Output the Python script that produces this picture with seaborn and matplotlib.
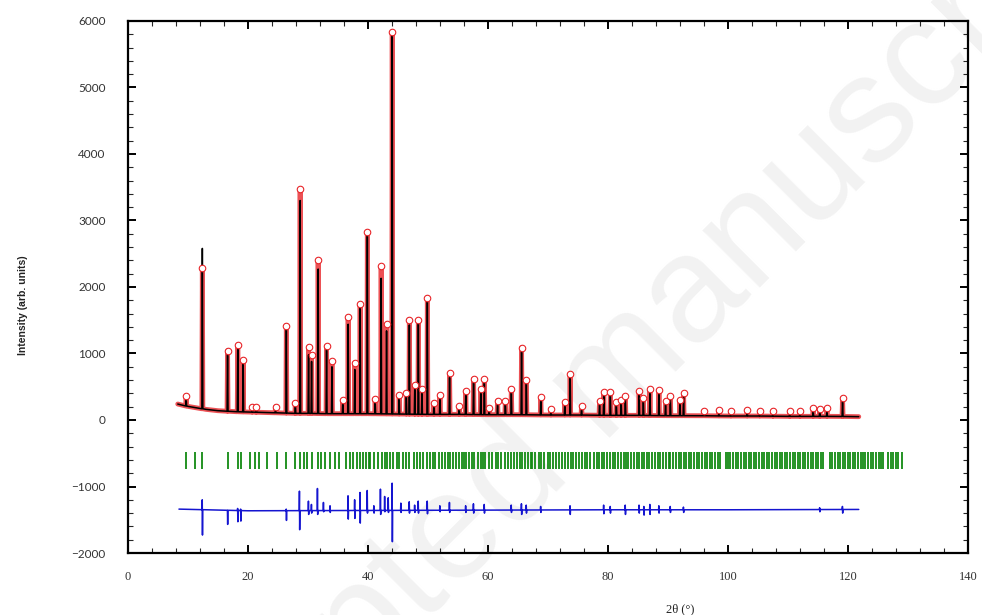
import numpy as np
import pandas as pd
import seaborn as sns
import matplotlib.pyplot as plt
from matplotlib.ticker import MultipleLocator

# background of the pattern (2theta, counts)
bg_x = [8.3, 9, 10, 11, 12, 13, 14, 15, 16, 18, 20, 22, 24, 26, 28, 30, 33, 36, 40, 45,
        50, 55, 60, 65, 70, 75, 80, 85, 90, 95, 100, 105, 110, 115, 118, 121.8]
bg_y = [240, 225, 205, 190, 175, 160, 150, 140, 135, 125, 120, 115, 110, 105, 100, 100, 95, 95, 95, 90,
        85, 85, 80, 80, 75, 75, 70, 70, 65, 65, 60, 60, 55, 55, 55, 50]

# reflections: position, calculated top, observed top
peak_pos = [9.7, 12.4, 16.6, 18.3, 19.2, 20.7, 21.4, 24.6, 26.4, 27.9, 28.7, 30.1, 30.6, 31.7,
            33.1, 34.0, 35.8, 36.7, 37.8, 38.7, 39.9, 41.2, 42.2, 43.1, 44.05, 45.2, 46.4, 46.9,
            47.8, 48.4, 49.0, 49.9, 51.0, 52.0, 53.6, 55.2, 56.3, 57.6, 58.8, 59.4, 60.2, 61.6,
            62.9, 63.9, 65.6, 66.4, 68.8, 70.5, 72.8, 73.7, 75.6, 78.6, 79.3, 80.4, 81.4, 82.2,
            82.9, 85.2, 85.9, 87.0, 88.5, 89.6, 90.4, 92.0, 92.6, 96.0, 98.5, 100.5, 103.2, 105.3,
            107.5, 110.3, 112.0, 114.2, 115.3, 116.5, 119.1]
peak_calc = [340, 2580, 1070, 1160, 920, 200, 190, 200, 1400, 260, 3300, 980, 880, 2270,
             1110, 800, 290, 1440, 760, 1700, 2780, 300, 2130, 1340, 5800, 350, 380, 1430,
             500, 1480, 450, 1780, 250, 380, 640, 200, 420, 590, 450, 590, 170, 280,
             280, 450, 1050, 590, 330, 150, 250, 660, 200, 260, 400, 400, 260, 290,
             350, 410, 320, 450, 430, 280, 350, 290, 390, 130, 140, 130, 140, 130,
             130, 120, 130, 170, 160, 170, 300]
peak_obs = [360, 2290, 1040, 1130, 900, 200, 190, 200, 1420, 260, 3470, 1100, 980, 2400,
            1110, 880, 300, 1550, 860, 1740, 2820, 320, 2310, 1440, 5830, 370, 400, 1510,
            520, 1500, 470, 1840, 260, 380, 700, 210, 440, 620, 470, 620, 180, 290,
            290, 470, 1090, 605, 345, 160, 270, 690, 210, 280, 415, 415, 270, 300,
            360, 430, 330, 470, 450, 290, 360, 300, 400, 140, 145, 135, 150, 135,
            140, 130, 135, 175, 170, 175, 330]

# Bragg positions
bragg = [9.7, 11.2, 12.4, 16.6, 18.4, 18.9, 20.3, 21.2, 21.9, 23.1, 24.8, 26.4, 27.9, 28.6,
         29.3, 29.8, 30.6, 31.6, 32.1, 32.8, 33.6, 34.5, 35.2, 36.4, 37.0, 37.5, 38.1, 38.6,
         39.1, 39.7, 40.1, 40.3, 41.0, 41.7, 42.3, 42.8, 43.1, 43.7, 44.1, 44.8, 45.2, 45.9,
         46.4, 46.9, 47.6, 48.1, 48.7, 49.2, 49.8,
         50.3, 50.8, 51.2, 51.9, 52.3, 52.8, 53.3, 53.6, 54.1, 54.6, 55.2, 55.6, 56.0, 56.3,
         56.9, 57.4, 57.7, 58.3, 58.8, 59.2, 59.5, 60.1, 60.6, 61.3, 61.7, 62.2, 62.8, 63.3,
         63.9, 64.4, 64.8, 65.3, 65.6, 66.2, 66.6, 67.1, 67.4, 67.9, 68.5, 68.9, 69.4, 70.0,
         70.4, 70.9, 71.3, 71.8, 72.3, 72.8, 73.4, 73.8, 74.2, 74.7, 75.2, 75.6, 76.1, 76.5,
         77.0, 77.6, 78.1, 78.5, 79.0, 79.4, 79.9, 80.3, 80.8, 81.2, 81.7, 82.1, 82.6, 83.0,
         83.4, 83.9, 84.3, 84.8, 85.2, 85.7, 86.0, 86.5, 86.9, 87.4, 87.8, 88.3, 88.7, 89.2,
         89.6, 90.1, 90.4, 90.9, 91.3, 91.8, 92.2, 92.7, 93.0, 93.5, 93.9, 94.4, 94.8, 95.2,
         95.7, 96.1, 96.5, 97.0, 97.4, 97.9, 98.3, 98.7, 99.6, 100.0, 100.4, 100.9, 101.3,
         101.7, 102.2, 102.6, 103.0, 103.5, 103.9, 104.3, 104.7, 105.2, 105.6, 106.0, 106.5,
         106.9, 107.3, 107.8, 108.2, 108.6, 109.0, 109.5, 109.9, 110.3, 110.8, 111.2, 111.6,
         112.0, 112.5, 112.9, 113.3, 113.8, 114.2, 114.6, 115.0, 115.5, 115.9, 117.0, 117.4,
         117.8, 118.3, 118.7, 119.1, 119.5, 120.0, 120.4, 120.8, 121.2, 121.7, 122.1, 122.5,
         122.9, 123.4, 123.8, 124.2, 124.6, 125.1, 125.5, 125.9, 126.7, 127.1, 127.5, 128.0,
         128.4, 129.0]

# difference curve (obs - calc, shifted)
diff_base_x = [8.5, 20, 40, 60, 80, 100, 121.8]
diff_base_y = [-1340, -1365, -1360, -1355, -1350, -1350, -1345]
diff_pos = [12.4, 16.6, 18.3, 18.8, 26.4, 28.6, 30.1, 30.6, 31.6, 32.6, 33.7, 36.7, 37.8, 38.7,
            39.9, 41.0, 42.1, 42.8, 43.4, 44.05, 45.5, 46.9, 47.8, 48.4, 49.9, 52.0, 53.6, 56.3,
            57.6, 59.4, 63.9, 65.6, 66.4, 68.8, 73.7, 79.3, 80.4, 82.9, 85.2, 86.0, 87.0, 88.5,
            90.4, 92.6, 115.3, 119.1]
diff_up = [-1200, -1360, -1330, -1340, -1340, -1070, -1220, -1270, -1030, -1240, -1290, -1140, -1200, -1090,
           -1060, -1290, -1040, -1150, -1170, -950, -1250, -1230, -1280, -1220, -1220, -1290, -1240, -1290,
           -1260, -1270, -1280, -1260, -1280, -1300, -1290, -1280, -1300, -1280, -1280, -1300, -1270, -1290,
           -1300, -1310, -1320, -1300]
diff_down = [-1730, -1570, -1530, -1520, -1510, -1650, -1420, -1400, -1420, -1380, -1390, -1490, -1480, -1550,
             -1400, -1400, -1420, -1380, -1390, -1830, -1390, -1400, -1390, -1400, -1410, -1380, -1390, -1390,
             -1400, -1400, -1390, -1420, -1400, -1390, -1420, -1410, -1400, -1420, -1400, -1430, -1420, -1400,
             -1390, -1390, -1380, -1400]


def profile(base_x, base_y, pos, tops, w=0.08):
    # background knots plus a narrow triangle for every reflection
    keep = [i for i, x in enumerate(base_x) if min(abs(x - p) for p in pos) > w * 1.5]
    xs = [base_x[i] for i in keep]
    ys = [base_y[i] for i in keep]
    for p, h in zip(pos, tops):
        b = float(np.interp(p, base_x, base_y))
        xs += [p - w, p, p + w]
        ys += [b, h, b]
    df = pd.DataFrame({"x": xs, "y": ys})
    return df.sort_values("x", kind="stable").reset_index(drop=True)


def diff_profile():
    keep = [i for i, x in enumerate(diff_base_x) if min(abs(x - p) for p in diff_pos) > 0.2]
    xs = [diff_base_x[i] for i in keep]
    ys = [diff_base_y[i] for i in keep]
    for p, u, d in zip(diff_pos, diff_up, diff_down):
        b = float(np.interp(p, diff_base_x, diff_base_y))
        xs += [p - 0.06, p - 0.02, p + 0.02, p + 0.06]
        ys += [b, u, d, b]
    df = pd.DataFrame({"x": xs, "y": ys})
    return df.sort_values("x", kind="stable").reset_index(drop=True)


sns.set_style("ticks")
fig = plt.figure(figsize=(9.82, 6.15), dpi=100)
ax = fig.add_axes([0.1303, 0.1008, 0.8554, 0.8651])
ax.patch.set_alpha(0)
ax.set_zorder(1)

# faint watermark behind everything
fig.text(0.61, 0.36, "Accepted manuscript", rotation=45, rotation_mode="anchor",
         ha="center", va="center", fontsize=110, color="#f2f2f2",
         family="Liberation Sans", zorder=-5)

obs = profile(bg_x, bg_y, peak_pos, peak_obs)
calc = profile(bg_x, bg_y, peak_pos, peak_calc)
dif = diff_profile()

sns.lineplot(data=obs, x="x", y="y", sort=False, estimator=None, color="#e8262a",
             linewidth=3.5, alpha=0.8, ax=ax, zorder=2)
sns.lineplot(data=calc, x="x", y="y", sort=False, estimator=None, color="black",
             linewidth=1.1, ax=ax, zorder=3)
sns.scatterplot(x=peak_pos, y=peak_obs, marker="o", s=22, color="#e8262a",
                linewidth=0.8, ax=ax, zorder=4)
ax.collections[-1].set_facecolor("white")
ax.collections[-1].set_edgecolor("#e8262a")
ax.vlines(bragg, -740, -480, color="#138a13", linewidth=1.3, zorder=2)
sns.lineplot(data=dif, x="x", y="y", sort=False, estimator=None, color="#1515d0",
             linewidth=1.1, ax=ax, zorder=3)

ax.set_xlim(0, 140)
ax.set_ylim(-2000, 6000)
ax.set_xticks(range(0, 141, 20))
ax.set_yticks(range(-2000, 6001, 1000))
ax.xaxis.set_minor_locator(MultipleLocator(4))
ax.yaxis.set_minor_locator(MultipleLocator(200))
ax.tick_params(which="major", direction="in", length=6, width=1.4, top=True, right=True,
               colors="black", labelcolor="#333333")
ax.tick_params(which="minor", direction="in", length=3.5, width=0.8, top=True, right=True)
ax.tick_params(axis="x", pad=13)
ax.tick_params(axis="y", pad=16)
for lbl in ax.get_yticklabels():
    lbl.set_fontfamily("Lato")
    lbl.set_fontsize(8.5)
for lbl in ax.get_xticklabels():
    lbl.set_fontfamily("Liberation Serif")
    lbl.set_fontsize(9)
for sp in ax.spines.values():
    sp.set_linewidth(1.6)
    sp.set_color("black")

ax.set_xlabel("2θ (°)", fontsize=9, family="Liberation Serif", color="#222222")
ax.xaxis.set_label_coords(0.657, -0.094)
ax.set_ylabel("Intensity (arb. units)", fontsize=7.5, family="Liberation Sans",
              fontweight="bold", color="#222222")
ax.yaxis.set_label_coords(-0.119, 0.466)

fig.savefig("out.png", dpi=100)
